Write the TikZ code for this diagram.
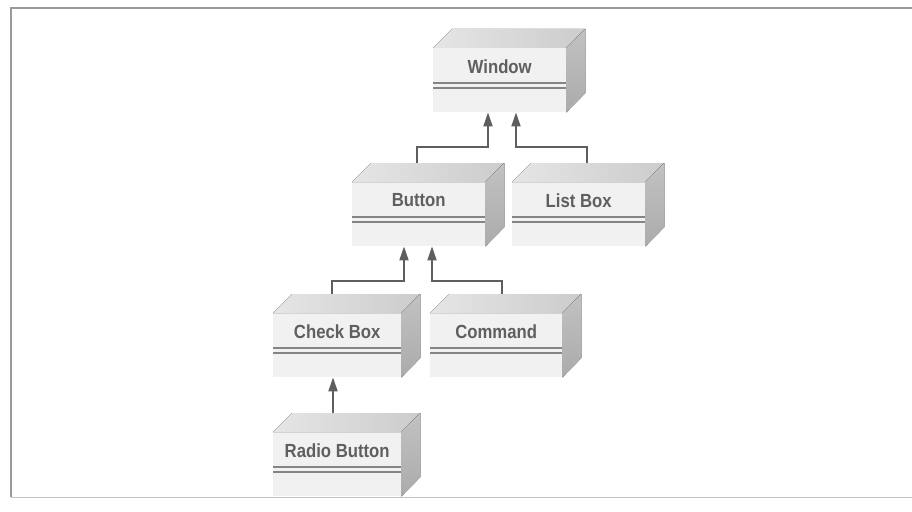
\documentclass[tikz,border=0pt]{standalone}
\usepackage{fontspec}
\setmainfont{Liberation Sans}
\usetikzlibrary{calc,arrows.meta}
\definecolor{txtgray}{HTML}{5F5F5F}
\definecolor{linegray}{HTML}{5E5E5E}
\definecolor{framegray}{HTML}{9A9A9A}
\definecolor{frontgray}{HTML}{F1F1F1}
\definecolor{dblgray}{HTML}{858585}
\newfontfamily\boxfont[FakeStretch=0.88]{Liberation Sans Bold}
\tikzset{
  frontface/.style={rectangle, minimum height=64pt, inner sep=0pt, fill=frontgray, draw=none},
  boxtext/.style={font=\boxfont\fontsize{19}{19}\selectfont, text=txtgray, inner sep=0pt},
  topface/.style={left color=gray!20, right color=gray!40, draw=none},
  sideface/.style={top color=gray!48, bottom color=gray!66, draw=none},
  dblline/.style={draw=dblgray, line width=1.3pt},
  conn/.style={draw=linegray, line width=1.8pt, -{Triangle[length=14pt,width=9pt]}},
  frameline/.style={draw=framegray, line width=1.4pt}
}
\newcommand{\umlbox}[5]{%
  % #1 name, #2 x of front left, #3 y of front top, #4 width, #5 text
  \node[frontface, minimum width=#4pt, anchor=north west] (#1) at (#2,#3) {};
  \fill[topface] (#1.north west) -- ++(19,-19) -- ++(#4,0) -- (#1.north east) -- cycle;
  \fill[sideface] (#1.north east) -- ++(19,-19) -- ++(0,64) -- (#1.south east) -- cycle;
  \draw[dblline] ($(#1.north west)+(0,35)$) -- ($(#1.north east)+(0,35)$);
  \draw[dblline] ($(#1.north west)+(0,40)$) -- ($(#1.north east)+(0,40)$);
  \node[boxtext] (#1-label) at ($(#1.north)+(0,18.5)$) {#5};
}
\begin{document}
\begin{tikzpicture}[x=1pt,y=-1pt]
\useasboundingbox (0,0) rectangle (912,511);
% frame
\draw[frameline] (912,8) -- (11,8) -- (11,497);
\draw[framegray!60, line width=0.8pt] (11,497) -- (912,497);
% boxes
\umlbox{win}{433}{48}{133}{Window}
\umlbox{btn}{352}{182}{133}{Button}
\umlbox{lst}{512}{182}{133}{List Box}
\umlbox{chk}{273}{313}{128}{Check Box}
\umlbox{cmd}{430}{313}{132}{Command}
\umlbox{rad}{273}{432}{128}{Radio Button}
% connectors
\coordinate (btn-top) at ($(btn.north west)+(65,-19)$);
\coordinate (lst-top) at ($(lst.north west)+(75,-19)$);
\coordinate (chk-top) at ($(chk.north west)+(59,-19)$);
\coordinate (cmd-top) at ($(cmd.north west)+(72,-19)$);
\coordinate (rad-top) at ($(rad.north west)+(60,-19)$);
\draw[conn] (btn-top) -- ++(0,-16) -| ($(win.south west)+(55,0)$);
\draw[conn] (lst-top) -- ++(0,-16) -| ($(win.south west)+(83,0)$);
\draw[conn] (chk-top) -- ++(0,-13) -| ($(btn.south west)+(52,0)$);
\draw[conn] (cmd-top) -- ++(0,-13) -| ($(btn.south west)+(80,0)$);
\draw[conn] (rad-top) -- (rad-top |- chk.south);
\end{tikzpicture}
\end{document}
